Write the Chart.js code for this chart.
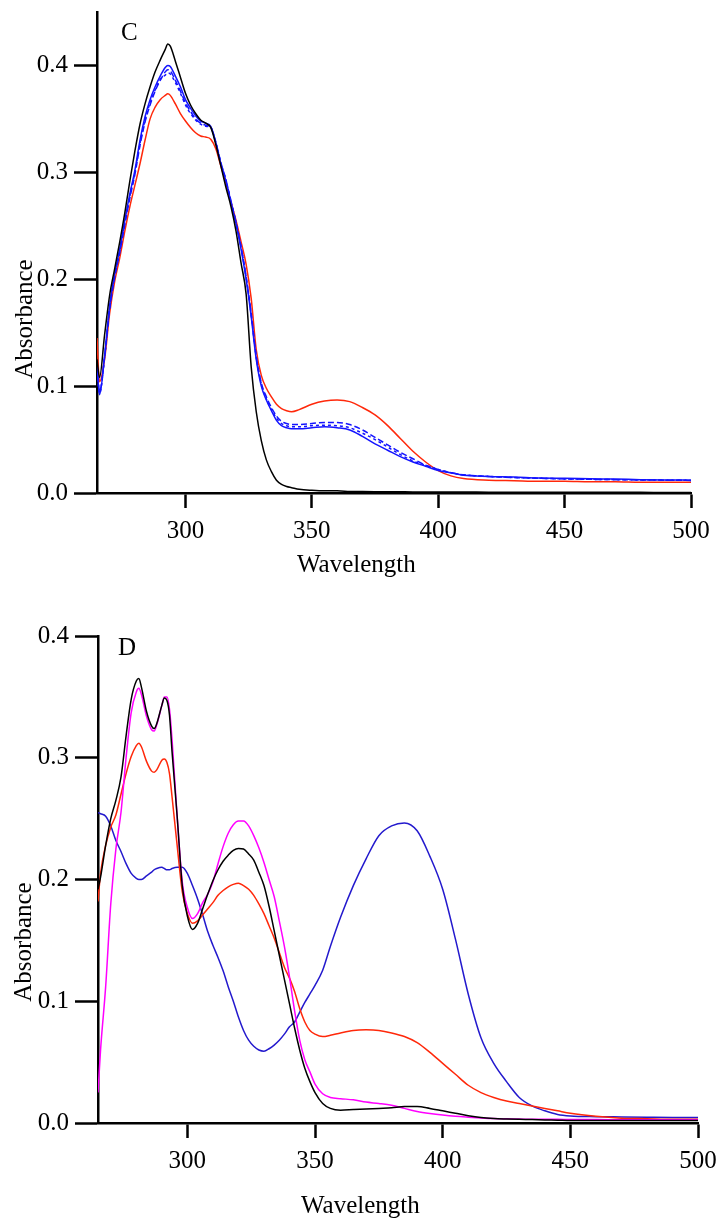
<!DOCTYPE html>
<html>
<head>
<meta charset="utf-8">
<title>Absorbance spectra</title>
<script src="https://cdn.jsdelivr.net/npm/chart.js@4.4.1/dist/chart.umd.min.js"></script>
<style>
  html, body { margin: 0; padding: 0; background: #fff; }
  canvas { position: absolute; left: 0; }
  #chartC { top: 0; }
  #chartD { top: 609px; }
</style>
</head>
<body>
<canvas id="chartC" width="716" height="609"></canvas>
<canvas id="chartD" width="716" height="609"></canvas>
<script>
// ---- panel C ----
const wavelengthC = [265, 266, 268, 270, 272, 274, 276, 278, 280, 282,
  284, 286, 288, 290, 292, 293, 294, 296, 298, 300,
  302, 304, 306, 308, 310, 312, 314, 316, 318, 320,
  322, 324, 326, 328, 330, 332, 334, 336, 338, 340,
  342, 345, 350, 355, 360, 365, 370, 375, 380, 385,
  390, 395, 400, 405, 410, 420, 430, 440, 450, 460,
  470, 480, 490, 500];
const blackC = [0.125, 0.108, 0.148, 0.185, 0.210, 0.235, 0.262, 0.292, 0.320, 0.345,
  0.364, 0.380, 0.394, 0.405, 0.415, 0.420, 0.418, 0.404, 0.389, 0.374,
  0.363, 0.355, 0.349, 0.346, 0.342, 0.326, 0.306, 0.286, 0.268, 0.245,
  0.215, 0.186, 0.118, 0.076, 0.049, 0.031, 0.020, 0.012, 0.008, 0.006,
  0.005, 0.0035, 0.0025, 0.002, 0.002, 0.0015, 0.0013, 0.0012, 0.0012, 0.0011,
  0.001, 0.001, 0.001, 0.001, 0.001, 0.0008, 0.0008, 0.0008, 0.0007, 0.0007,
  0.0006, 0.0006, 0.0005, 0.0005];
const redC = [0.145, 0.104, 0.125, 0.168, 0.198, 0.220, 0.245, 0.268, 0.288, 0.308,
  0.330, 0.350, 0.361, 0.368, 0.372, 0.3735, 0.372, 0.364, 0.355, 0.348,
  0.342, 0.337, 0.334, 0.333, 0.331, 0.322, 0.306, 0.290, 0.272, 0.255,
  0.235, 0.214, 0.182, 0.134, 0.110, 0.098, 0.090, 0.083, 0.079, 0.077,
  0.076, 0.078, 0.083, 0.086, 0.087, 0.0855, 0.080, 0.073, 0.063, 0.051,
  0.039, 0.029, 0.021, 0.016, 0.0135, 0.012, 0.0115, 0.011, 0.011, 0.0105,
  0.0105, 0.010, 0.010, 0.010];
const blueC = [0.120, 0.092, 0.128, 0.175, 0.205, 0.228, 0.255, 0.280, 0.302, 0.330,
  0.352, 0.368, 0.380, 0.390, 0.398, 0.400, 0.399, 0.390, 0.380, 0.368,
  0.360, 0.353, 0.348, 0.346, 0.343, 0.328, 0.308, 0.292, 0.272, 0.252,
  0.228, 0.200, 0.165, 0.125, 0.100, 0.087, 0.077, 0.068, 0.063, 0.061,
  0.060, 0.060, 0.061, 0.062, 0.061, 0.059, 0.053, 0.046, 0.040, 0.034,
  0.029, 0.025, 0.021, 0.019, 0.0165, 0.0155, 0.015, 0.014, 0.0138, 0.0133,
  0.013, 0.0125, 0.0122, 0.012];
const blueDashC1 = [0.118, 0.095, 0.127, 0.172, 0.202, 0.225, 0.251, 0.276, 0.298, 0.325,
  0.347, 0.363, 0.376, 0.386, 0.394, 0.396, 0.395, 0.386, 0.376, 0.365,
  0.357, 0.350, 0.346, 0.344, 0.342, 0.328, 0.309, 0.293, 0.273, 0.253,
  0.230, 0.202, 0.168, 0.128, 0.103, 0.090, 0.080, 0.072, 0.067, 0.065,
  0.064, 0.064, 0.065, 0.066, 0.066, 0.064, 0.059, 0.052, 0.045, 0.038,
  0.032, 0.026, 0.022, 0.019, 0.017, 0.0155, 0.0145, 0.0138, 0.0132, 0.0128,
  0.0125, 0.0122, 0.012, 0.0118];
const blueDashC2 = [0.119, 0.093, 0.127, 0.173, 0.203, 0.226, 0.253, 0.278, 0.300, 0.327,
  0.349, 0.365, 0.377, 0.387, 0.391, 0.393, 0.392, 0.384, 0.374, 0.363,
  0.355, 0.349, 0.345, 0.343, 0.342, 0.328, 0.309, 0.293, 0.273, 0.253,
  0.230, 0.202, 0.167, 0.127, 0.102, 0.088, 0.078, 0.070, 0.065, 0.063,
  0.062, 0.062, 0.063, 0.0635, 0.063, 0.061, 0.056, 0.050, 0.043, 0.036,
  0.030, 0.026, 0.022, 0.019, 0.017, 0.0155, 0.0145, 0.0138, 0.0132, 0.0128,
  0.0125, 0.0122, 0.012, 0.0118];

// ---- panel D ----
const wavelengthD = [265, 266, 268, 270, 272, 274, 276, 278, 280, 281,
  282, 284, 286, 287, 288, 290, 291, 292, 293, 294,
  296, 298, 300, 302, 304, 306, 308, 310, 312, 314,
  316, 318, 320, 322, 324, 326, 328, 330, 332, 334,
  336, 338, 340, 342, 344, 346, 348, 350, 353, 356,
  360, 365, 370, 375, 380, 385, 390, 395, 400, 405,
  410, 415, 420, 425, 430, 435, 440, 445, 450, 460,
  470, 480, 490, 500];
const blackD = [0.192, 0.202, 0.228, 0.250, 0.265, 0.284, 0.318, 0.348, 0.363, 0.365,
  0.358, 0.338, 0.326, 0.324, 0.328, 0.343, 0.349, 0.347, 0.335, 0.305,
  0.252, 0.195, 0.170, 0.159, 0.164, 0.176, 0.188, 0.199, 0.208, 0.215,
  0.220, 0.224, 0.2255, 0.225, 0.221, 0.216, 0.206, 0.195, 0.178, 0.158,
  0.138, 0.118, 0.098, 0.078, 0.060, 0.045, 0.034, 0.025, 0.016, 0.012,
  0.0105, 0.011, 0.0115, 0.012, 0.0125, 0.0135, 0.0135, 0.012, 0.010, 0.008,
  0.006, 0.0045, 0.0037, 0.0033, 0.003, 0.0028, 0.0025, 0.0023, 0.002, 0.002,
  0.002, 0.002, 0.002, 0.002];
const magentaD = [0.025, 0.060, 0.112, 0.180, 0.225, 0.255, 0.300, 0.337, 0.354, 0.357,
  0.352, 0.334, 0.323, 0.322, 0.327, 0.343, 0.350, 0.350, 0.340, 0.315,
  0.252, 0.198, 0.177, 0.168, 0.172, 0.181, 0.188, 0.198, 0.213, 0.227,
  0.238, 0.245, 0.248, 0.248, 0.244, 0.236, 0.226, 0.214, 0.200, 0.186,
  0.166, 0.145, 0.120, 0.092, 0.068, 0.052, 0.042, 0.032, 0.024, 0.021,
  0.020, 0.019, 0.0172, 0.016, 0.0145, 0.012, 0.0095, 0.0078, 0.0065, 0.0055,
  0.0048, 0.0042, 0.0037, 0.0034, 0.0032, 0.003, 0.003, 0.003, 0.0028, 0.0028,
  0.0027, 0.0027, 0.0026, 0.0026];
const redD = [0.182, 0.205, 0.228, 0.243, 0.253, 0.270, 0.287, 0.301, 0.310, 0.312,
  0.309, 0.297, 0.289, 0.288, 0.290, 0.298, 0.299, 0.296, 0.287, 0.268,
  0.228, 0.190, 0.172, 0.164, 0.166, 0.171, 0.176, 0.181, 0.187, 0.191,
  0.194, 0.196, 0.197, 0.195, 0.192, 0.187, 0.180, 0.172, 0.162, 0.152,
  0.140, 0.128, 0.119, 0.108, 0.094, 0.083, 0.076, 0.073, 0.071, 0.072,
  0.074, 0.076, 0.0765, 0.076, 0.074, 0.071, 0.066, 0.058, 0.049, 0.040,
  0.031, 0.025, 0.021, 0.018, 0.016, 0.014, 0.012, 0.010, 0.008, 0.0055,
  0.004, 0.0035, 0.003, 0.003];
const blueD = [0.255, 0.254, 0.252, 0.244, 0.232, 0.223, 0.213, 0.205, 0.201, 0.200,
  0.200, 0.203, 0.206, 0.208, 0.209, 0.210, 0.209, 0.208, 0.208, 0.209,
  0.210, 0.210, 0.205, 0.195, 0.184, 0.171, 0.157, 0.146, 0.136, 0.125,
  0.112, 0.100, 0.087, 0.076, 0.068, 0.063, 0.060, 0.059, 0.061, 0.064,
  0.068, 0.073, 0.079, 0.083, 0.091, 0.099, 0.106, 0.113, 0.1255, 0.145,
  0.169, 0.195, 0.217, 0.236, 0.244, 0.2465, 0.240, 0.219, 0.192, 0.151,
  0.106, 0.070, 0.049, 0.034, 0.021, 0.014, 0.010, 0.007, 0.0058, 0.0052,
  0.005, 0.0048, 0.0046, 0.0045];

const xTicks = [300, 350, 400, 450, 500];
const yTicksC = [0.0, 0.1, 0.2, 0.3, 0.4];
const yTicksD = [0.0, 0.1, 0.2, 0.3, 0.4];

const serif = '"Liberation Serif", "Times New Roman", serif';
Chart.defaults.font.family = serif;
Chart.defaults.font.size = 25;
Chart.defaults.color = '#000';

function series(xs, ys, color, dash) {
  return {
    data: xs.map((x, i) => ({ x: x, y: ys[i] })),
    borderColor: color,
    borderWidth: 1.5,
    borderDash: dash || [],
    pointRadius: 0,
    cubicInterpolationMode: 'monotone',
    fill: false
  };
}

// panel letter and axis titles, drawn as plain canvas text
const panelText = {
  id: 'panelText',
  afterDraw(chart, args, opts) {
    const ctx = chart.ctx;
    ctx.save();
    ctx.fillStyle = '#000';
    ctx.font = '25px ' + serif;
    ctx.textAlign = 'left';
    ctx.textBaseline = 'alphabetic';
    ctx.fillText(opts.letter, opts.letterAt[0], opts.letterAt[1]);
    ctx.fillText('Wavelength', opts.xTitleAt[0], opts.xTitleAt[1]);
    ctx.translate(opts.yTitleAt[0], opts.yTitleAt[1]);
    ctx.rotate(-Math.PI / 2);
    ctx.textAlign = 'center';
    ctx.fillText('Absorbance', 0, 0);
    ctx.restore();
  }
};

function makeChart(id, datasets, yMax, yTicks, box, text) {
  return new Chart(document.getElementById(id), {
    type: 'line',
    data: { datasets: datasets },
    plugins: [panelText],
    options: {
      responsive: false,
      animation: false,
      events: [],
      layout: { padding: { left: 0, top: box.top, right: box.right, bottom: 0 } },
      plugins: {
        legend: { display: false },
        tooltip: { enabled: false },
        panelText: text
      },
      scales: {
        x: {
          type: 'linear',
          min: 265,
          max: 500,
          border: { display: true, color: '#000', width: 2.5 },
          grid: { drawOnChartArea: false, drawTicks: true, tickLength: 15, tickWidth: 2.5, tickColor: '#000' },
          ticks: { padding: 8, maxRotation: 0, autoSkip: false, callback: v => String(v) },
          afterBuildTicks: s => { s.ticks = xTicks.map(v => ({ value: v })); },
          afterFit: s => { s.height = box.xHeight; s.paddingLeft = 0; s.paddingRight = 0; }
        },
        y: {
          type: 'linear',
          min: 0,
          max: yMax,
          border: { display: true, color: '#000', width: 2.5 },
          grid: { drawOnChartArea: false, drawTicks: true, tickLength: 23, tickWidth: 2.5, tickColor: '#000' },
          ticks: { padding: 6, autoSkip: false, callback: v => v.toFixed(1) },
          afterBuildTicks: s => { s.ticks = yTicks.map(v => ({ value: v })); },
          afterFit: s => { s.width = box.yWidth; s.paddingTop = 0; s.paddingBottom = 0; }
        }
      }
    }
  });
}

const bright = 'rgb(20,20,255)';
const red = 'rgb(255,40,10)';

makeChart('chartC', [
  series(wavelengthC, blackC, '#000'),
  series(wavelengthC, blueC, bright),
  series(wavelengthC, blueDashC1, bright, [6, 3]),
  series(wavelengthC, blueDashC2, bright, [3, 3]),
  series(wavelengthC, redC, red)
], 0.45, yTicksC,
  { top: 12, right: 25, xHeight: 116, yWidth: 97 },
  { letter: 'C', letterAt: [121, 40], xTitleAt: [297, 572], yTitleAt: [32, 319] });

makeChart('chartD', [
  series(wavelengthD, blackD, '#000'),
  series(wavelengthD, magentaD, 'rgb(255,0,255)'),
  series(wavelengthD, redD, red),
  series(wavelengthD, blueD, 'rgb(35,25,205)')
], 0.4, yTicksD,
  { top: 27, right: 18, xHeight: 95, yWidth: 98 },
  { letter: 'D', letterAt: [118, 46], xTitleAt: [301, 604], yTitleAt: [31, 333] });
</script>
</body>
</html>
